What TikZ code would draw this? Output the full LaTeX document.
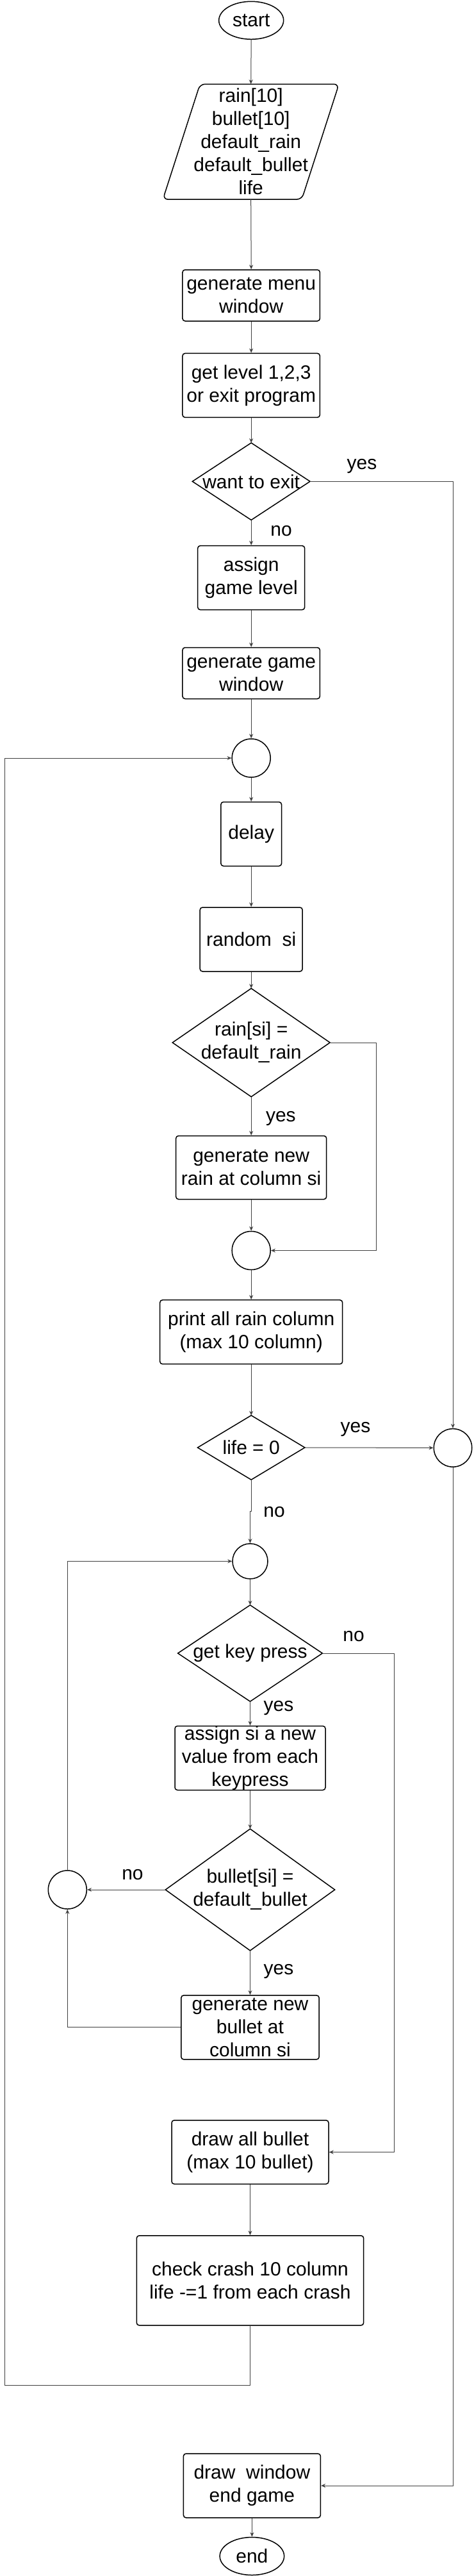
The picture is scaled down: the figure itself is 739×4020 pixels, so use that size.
\documentclass[tikz,border=0pt]{standalone}
\usepackage{fontspec}
\setmainfont{Liberation Sans}
\usetikzlibrary{shapes.geometric,arrows.meta}
\tikzset{
  box/.style={draw,line width=1.5pt,rounded corners=4pt,inner sep=0pt,align=center},
  term/.style={draw,ellipse,line width=1.5pt,inner sep=0pt},
  joint/.style={draw,circle,line width=1.5pt,inner sep=0pt,minimum size=60pt},
  decision/.style={inner sep=0pt,align=center},
  flow/.style={line width=1pt,draw=black!75,-{Stealth[length=7pt,width=6pt]}},
}
\begin{document}
\begin{tikzpicture}[x=1pt,y=-1pt,font=\fontsize{30}{36}\selectfont]
\useasboundingbox (0,0) rectangle (739,4020);
% upper column
\node[term,minimum width=101pt,minimum height=59pt] (start) at (392.2,31.8) {start};
\node[decision,minimum width=274.5pt,minimum height=179.5pt] (vars) at (391.7,221.2) {rain[10]\\bullet[10]\\default\_rain\\default\_bullet\\life};
\node[box,minimum width=214.5pt,minimum height=80pt] (menu) at (392.2,461) {generate menu\\window};
\node[box,minimum width=214.5pt,minimum height=100pt] (level) at (392.2,601.4) {get level 1,2,3\\or exit program};
\node[decision,minimum width=183.3pt,minimum height=120pt] (exit) at (392.2,751.3) {want to exit};
\node[box,minimum width=167pt,minimum height=100pt] (assign) at (392.2,901.6) {assign\\game level};
\node[box,minimum width=214.5pt,minimum height=80pt] (gamewin) at (392.2,1050.5) {generate game\\window};
\node[joint] (j1) at (392.2,1183) {};
\node[box,minimum width=94.7pt,minimum height=100pt] (delay) at (392.2,1301.5) {delay};
\node[box,minimum width=160pt,minimum height=100pt] (rnd) at (392.2,1466) {random~~si};
\node[decision,minimum width=245.5pt,minimum height=168.7pt] (rainchk) at (392.2,1627) {rain[si] =\\default\_rain};
\node[box,minimum width=235pt,minimum height=99pt] (genrain) at (392.2,1822) {generate new\\rain at column si};
\node[joint] (j2) at (392.2,1951.5) {};
\node[box,minimum width=285pt,minimum height=100pt] (prt) at (392.2,2078.7) {print all rain column\\(max 10 column)};
\node[decision,minimum width=167pt,minimum height=100pt] (lifechk) at (392.2,2259) {life = 0};
\node[joint,minimum size=59.5pt] (jr) at (707,2259.4) {};
% lower column
\node[joint,minimum size=55pt] (j3) at (390.5,2436.4) {};
\node[decision,minimum width=225.3pt,minimum height=150pt] (keychk) at (390.5,2580) {get key press};
\node[box,minimum width=235pt,minimum height=99pt] (assignsi) at (390.5,2743.5) {assign si a new\\value from each\\keypress};
\node[decision,minimum width=264pt,minimum height=189.5pt] (bulchk) at (390.5,2949) {bullet[si] =\\default\_bullet};
\node[joint] (j4) at (105.3,2949) {};
\node[box,minimum width=215.4pt,minimum height=100pt] (genbul) at (390.5,3163.8) {generate new\\bullet at\\column si};
\node[box,minimum width=245pt,minimum height=99.5pt] (drawall) at (390.5,3358.5) {draw all bullet\\(max 10 bullet)};
\node[box,minimum width=354.4pt,minimum height=140pt] (crash) at (390.5,3558.8) {check crash 10 column\\life -=1 from each crash};
\node[box,minimum width=214pt,minimum height=100pt] (endbox) at (393.4,3879) {draw~~window\\end game};
\node[term,minimum width=100.5pt,minimum height=59pt] (stop) at (393.4,3989) {end};
% outlines
\draw[line width=1.5pt,rounded corners=8pt] ([xshift=58pt]vars.north west) -- (vars.north east) -- ([xshift=-58pt]vars.south east) -- (vars.south west) -- cycle;
\foreach \d in {exit,rainchk,lifechk,keychk,bulchk}
  \draw[line width=1.5pt] (\d.north) -- (\d.east) -- (\d.south) -- (\d.west) -- cycle;
% branch labels
\node (yes1) at (565,728) {yes};\node (no1) at (439,828.5) {no};
\node (yes2) at (438.4,1745.7) {yes};\node (yes3) at (555,2231) {yes};
\node (no2) at (428,2360) {no};\node (no3) at (552,2553.5) {no};
\node (yes4) at (435,2665.7) {yes};\node (no4) at (207,2925.4) {no};
\node (yes5) at (435,3077) {yes};
% connectors
\coordinate (rskip) at (587.2,1627);\coordinate (kskip) at (615.5,2580);
\coordinate (back) at (7,3722.6);
\draw[flow] (start.south) -- (vars.north);\draw[flow] (vars.south) -- (menu.north);
\draw[flow] (menu.south) -- (level.north);\draw[flow] (level.south) -- (exit.north);
\draw[flow] (exit.east) -| (jr.north);\draw[flow] (exit.south) -- (assign.north);
\draw[flow] (assign.south) -- (gamewin.north);\draw[flow] (gamewin.south) -- (j1.north);
\draw[flow] (j1.south) -- (delay.north);\draw[flow] (delay.south) -- (rnd.north);
\draw[flow] (rnd.south) -- (rainchk.north);\draw[flow] (rainchk.east) -- (rskip) |- (j2.east);
\draw[flow] (rainchk.south) -- (genrain.north);\draw[flow] (genrain.south) -- (j2.north);
\draw[flow] (j2.south) -- (prt.north);\draw[flow] (prt.south) -- (lifechk.north);
\draw[flow] (lifechk.east) -- (jr.west);\draw[flow] (lifechk.south) -- ++(0,49) -| (j3.north);
\draw[flow] (j3.south) -- (keychk.north);\draw[flow] (keychk.east) -- (kskip) |- (drawall.east);
\draw[flow] (keychk.south) -- (assignsi.north);\draw[flow] (assignsi.south) -- (bulchk.north);
\draw[flow] (bulchk.west) -- (j4.east);\draw[flow] (bulchk.south) -- (genbul.north);
\draw[flow] (genbul.west) -| (j4.south);\draw[flow] (j4.north) |- (j3.west);
\draw[flow] (drawall.south) -- (crash.north);\draw[flow] (crash.south) |- (back) |- (j1.west);
\draw[flow] (jr.south) |- (endbox.east);\draw[flow] (endbox.south) -- (stop.north);
\end{tikzpicture}
\end{document}
